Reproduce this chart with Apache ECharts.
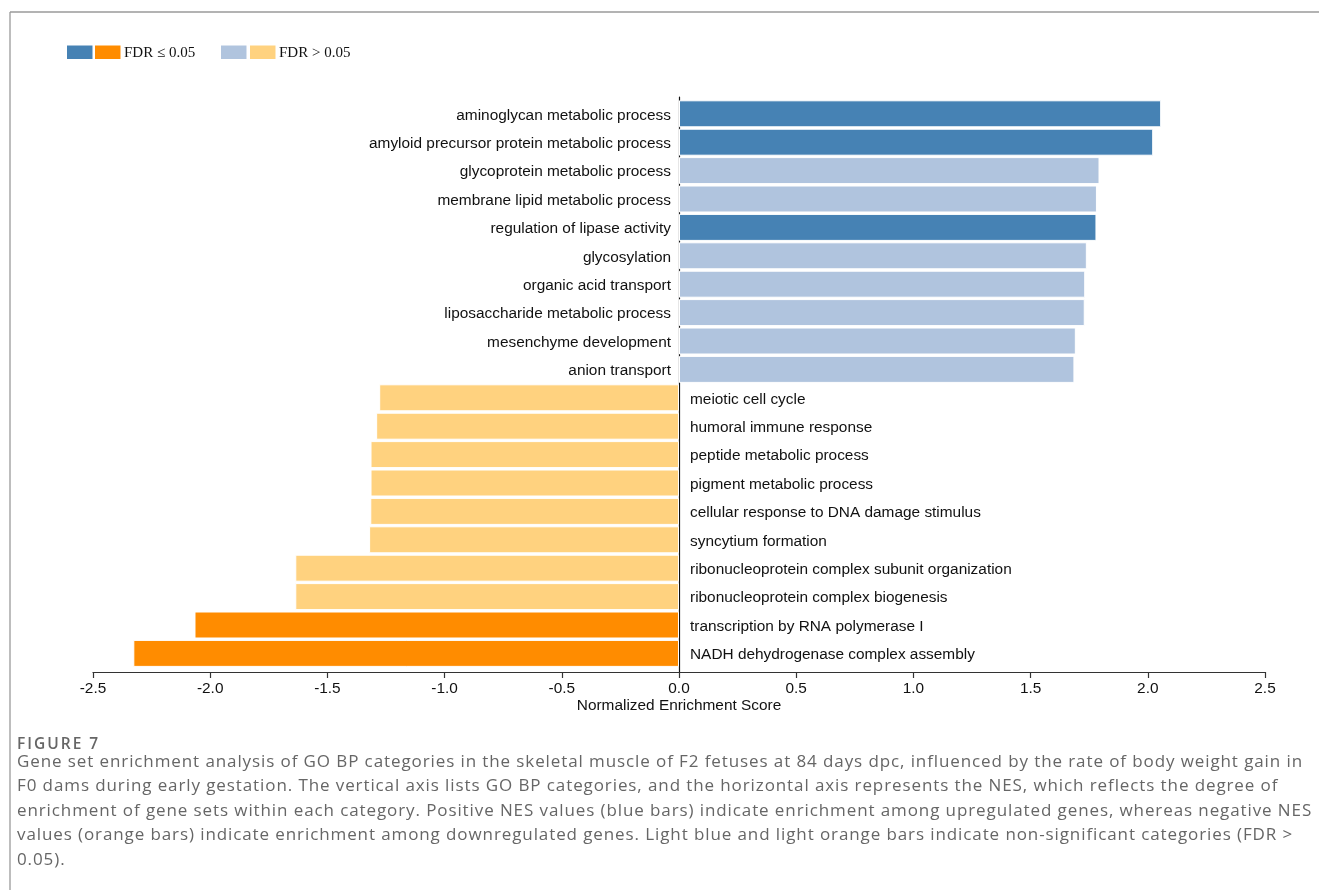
<!DOCTYPE html>
<html>
<head>
<meta charset="utf-8">
<script src="https://cdn.jsdelivr.net/npm/echarts@6/dist/echarts.min.js"></script>
<style>
  html, body { margin: 0; padding: 0; background: #fff; }
  #wrap { position: relative; width: 1319px; height: 890px; overflow: hidden; }
  #chart { position: absolute; left: 0; top: 0; width: 1319px; height: 890px; }
  #caption-title {
    position: absolute; left: 17px; top: 733px;
    font: 600 15.5px "Open Sans", "Noto Sans", sans-serif;
    letter-spacing: 2px; color: #666; line-height: 20px; white-space: nowrap;
  }
  #caption-body {
    position: absolute; left: 17px; top: 748.75px;
    font: 17px "Open Sans", "Noto Sans", sans-serif;
    letter-spacing: 0.9px; color: #666; line-height: 24.5px; white-space: nowrap;
  }
</style>
</head>
<body>
<div id="wrap">
  <div id="chart"></div>
  <div id="caption-title"></div>
  <div id="caption-body"></div>
</div>
<script>
// GO BP categories, top to bottom
const categories = [
  'aminoglycan metabolic process',
  'amyloid precursor protein metabolic process',
  'glycoprotein metabolic process',
  'membrane lipid metabolic process',
  'regulation of lipase activity',
  'glycosylation',
  'organic acid transport',
  'liposaccharide metabolic process',
  'mesenchyme development',
  'anion transport',
  'meiotic cell cycle',
  'humoral immune response',
  'peptide metabolic process',
  'pigment metabolic process',
  'cellular response to DNA damage stimulus',
  'syncytium formation',
  'ribonucleoprotein complex subunit organization',
  'ribonucleoprotein complex biogenesis',
  'transcription by RNA polymerase I',
  'NADH dehydrogenase complex assembly'
];

// Normalized enrichment score per category
const nesValues = [
  2.057, 2.023, 1.794, 1.783, 1.781, 1.740, 1.733, 1.731, 1.693, 1.687,
  -1.279, -1.292, -1.316, -1.316, -1.317, -1.322, -1.637, -1.637, -2.067, -2.328
];

// FDR <= 0.05 ?
const significant = [
  true, true, false, false, true, false, false, false, false, false,
  false, false, false, false, false, false, false, false, true, true
];

const legendLabels = ['FDR \u2264 0.05', 'FDR > 0.05'];
const axisTitle = 'Normalized Enrichment Score';
const captionTitle = 'FIGURE 7';
const captionLines = [
  'Gene set enrichment analysis of GO BP categories in the skeletal muscle of F2 fetuses at 84 days dpc, influenced by the rate of body weight gain in',
  'F0 dams during early gestation. The vertical axis lists GO BP categories, and the horizontal axis represents the NES, which reflects the degree of',
  'enrichment of gene sets within each category. Positive NES values (blue bars) indicate enrichment among upregulated genes, whereas negative NES',
  'values (orange bars) indicate enrichment among downregulated genes. Light blue and light orange bars indicate non-significant categories (FDR >',
  '0.05).'
];

const COLORS = {
  upSig: '#4682B4',
  downSig: '#FF8C00',
  upNs: '#B0C4DE',
  downNs: '#FFD27F'
};

function barColor(v, sig) {
  if (v >= 0) return sig ? COLORS.upSig : COLORS.upNs;
  return sig ? COLORS.downSig : COLORS.downNs;
}

const SANS = '"Liberation Sans", Arial, Helvetica, sans-serif';
const SERIF = '"Liberation Serif", "Times New Roman", serif';
const FONT_SIZE = 15.4;

// caption text
document.getElementById('caption-title').textContent = captionTitle;
const body = document.getElementById('caption-body');
captionLines.forEach(line => {
  const d = document.createElement('div');
  d.textContent = line;
  body.appendChild(d);
});

// plot geometry
const PLOT_LEFT = 93, PLOT_RIGHT = 54, CHART_W = 1319;
const X_MIN = -2.5, X_MAX = 2.5;
const plotWidth = CHART_W - PLOT_LEFT - PLOT_RIGHT;
const zeroX = PLOT_LEFT + plotWidth * (0 - X_MIN) / (X_MAX - X_MIN);
const BAR_TOP = 99.6, BAR_H = 568;
const LABEL_TOP = BAR_TOP + 1.5;

const chart = echarts.init(document.getElementById('chart'), null, { renderer: 'canvas' });

const hiddenX = grid => ({
  gridIndex: grid, type: 'value', min: X_MIN, max: X_MAX, show: false
});

const labelAxis = (grid, position, keep, margin) => ({
  gridIndex: grid, type: 'category', data: categories, inverse: true, position,
  axisLine: { show: false }, axisTick: { show: false }, splitLine: { show: false },
  axisLabel: {
    formatter: (v, i) => (keep(nesValues[i]) ? v : ''),
    color: '#111', fontSize: FONT_SIZE, fontFamily: SANS, margin
  }
});

const option = {
  animation: false,
  backgroundColor: 'transparent',
  grid: [
    // bars
    { left: PLOT_LEFT, right: PLOT_RIGHT, top: BAR_TOP, height: BAR_H, outerBoundsMode: 'none' },
    // x axis and zero line
    { left: PLOT_LEFT, right: PLOT_RIGHT, top: 97, height: 575, outerBoundsMode: 'none' },
    // labels of positive categories, to the left of zero
    { left: zeroX, right: PLOT_RIGHT, top: LABEL_TOP, height: BAR_H, outerBoundsMode: 'none' },
    // labels of negative categories, to the right of zero
    { left: PLOT_LEFT, right: CHART_W - zeroX, top: LABEL_TOP, height: BAR_H, outerBoundsMode: 'none' }
  ],
  xAxis: [
    hiddenX(0),
    {
      gridIndex: 1, type: 'value', min: X_MIN, max: X_MAX, interval: 0.5,
      axisLine: { onZero: false, lineStyle: { color: '#333', width: 1.2 } },
      axisTick: { length: 6, lineStyle: { color: '#333', width: 1.2 } },
      axisLabel: {
        formatter: v => v.toFixed(1), color: '#111', fontSize: FONT_SIZE,
        fontFamily: SANS, margin: 9
      },
      splitLine: { show: false },
      name: axisTitle, nameLocation: 'middle', nameGap: 26, nameMoveOverlap: false,
      nameTextStyle: { color: '#111', fontSize: FONT_SIZE, fontFamily: SANS }
    },
    hiddenX(2),
    hiddenX(3)
  ],
  yAxis: [
    {
      gridIndex: 0, type: 'category', data: categories, inverse: true, show: false
    },
    {
      gridIndex: 1, type: 'value', min: 0, max: 1,
      axisLine: { show: true, onZero: true, lineStyle: { color: '#111', width: 1.2 } },
      axisTick: { show: false }, axisLabel: { show: false }, splitLine: { show: false }
    },
    labelAxis(2, 'left', v => v > 0, 8),
    labelAxis(3, 'right', v => v < 0, 11)
  ],
  series: [
    {
      type: 'bar',
      xAxisIndex: 0,
      yAxisIndex: 0,
      barWidth: 27,
      data: nesValues.map((v, i) => ({
        value: v,
        itemStyle: { color: barColor(v, significant[i]) }
      })),
      itemStyle: { borderColor: '#fff', borderWidth: 1 },
      emphasis: { disabled: true }
    }
  ],
  graphic: [
    // page frame
    { type: 'line', shape: { x1: 10, y1: 12, x2: 1319, y2: 12 }, style: { stroke: '#9a9a9a', lineWidth: 1.3 }, silent: true },
    { type: 'line', shape: { x1: 10, y1: 12, x2: 10, y2: 890 }, style: { stroke: '#9a9a9a', lineWidth: 1.3 }, silent: true },
    // legend
    { type: 'rect', shape: { x: 67, y: 45.5, width: 25.5, height: 13.5 }, style: { fill: COLORS.upSig }, silent: true },
    { type: 'rect', shape: { x: 95, y: 45.5, width: 25.5, height: 13.5 }, style: { fill: COLORS.downSig }, silent: true },
    { type: 'text', x: 124, y: 53, style: { text: legendLabels[0], fill: '#111', font: '15px ' + SERIF, verticalAlign: 'middle' }, silent: true },
    { type: 'rect', shape: { x: 221, y: 45.5, width: 25.5, height: 13.5 }, style: { fill: COLORS.upNs }, silent: true },
    { type: 'rect', shape: { x: 250, y: 45.5, width: 25.5, height: 13.5 }, style: { fill: COLORS.downNs }, silent: true },
    { type: 'text', x: 279, y: 53, style: { text: legendLabels[1], fill: '#111', font: '15px ' + SERIF, verticalAlign: 'middle' }, silent: true }
  ]
};

chart.setOption(option);
</script>
</body>
</html>
